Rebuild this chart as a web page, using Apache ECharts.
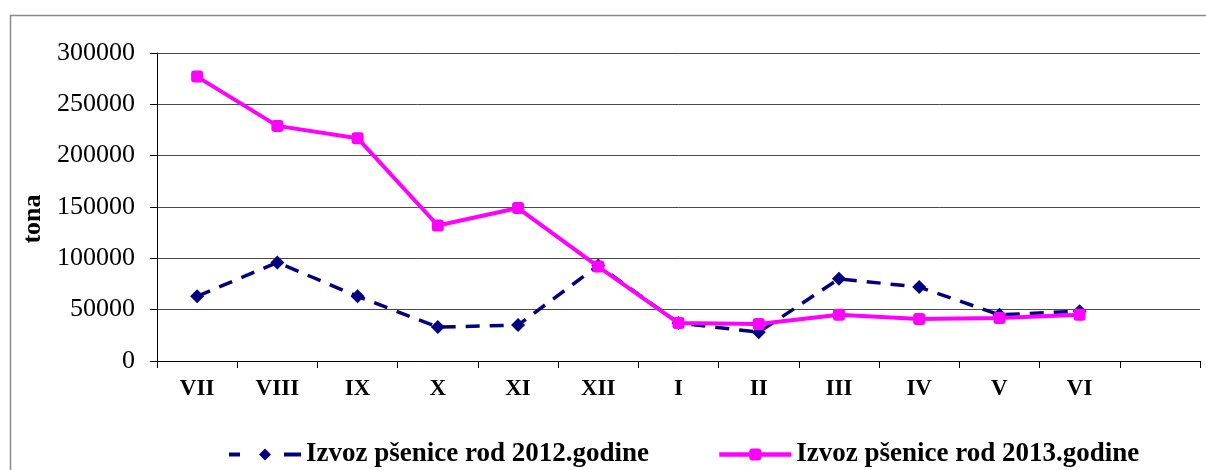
<!DOCTYPE html>
<html><head><meta charset="utf-8">
<script src="https://cdn.jsdelivr.net/npm/echarts@6/dist/echarts.min.js"></script>
<style>html,body{margin:0;padding:0;background:#fff}#c{width:1206px;height:470px}</style>
</head><body><div id="c"></div>
<script>
const categories = ['VII','VIII','IX','X','XI','XII','I','II','III','IV','V','VI',''];
const izvoz2012 = [63000, 96000, 63000, 33000, 35000, 93000, 37000, 28000, 80000, 72000, 45000, 48500];
const izvoz2013 = [277000, 229000, 217000, 132000, 149000, 92000, 37000, 36000, 45000, 41000, 42000, 45000];
const seriesNames = ['Izvoz pšenice rod 2012.godine', 'Izvoz pšenice rod 2013.godine'];
const yAxisName = 'tona';
const yTicks = {min: 0, max: 300000, interval: 50000};

const chart = echarts.init(document.getElementById('c'));
const font = "'Liberation Serif', 'Times New Roman', serif";
chart.setOption({
  animation: false,
  backgroundColor: '#fff',
  graphic: [
    {type: 'rect', shape: {x: 10.5, y: 15.5, width: 1220, height: 500}, style: {fill: 'none', stroke: '#8a8a8a', lineWidth: 1.5}, z: -1},
    {type: 'text', x: 33, y: 219, rotation: Math.PI / 2,
     style: {text: yAxisName, fontFamily: font, fontWeight: 'bold', fontSize: 26, fill: '#000', align: 'center', verticalAlign: 'middle'}}
  ],
  grid: {left: 157, right: 6, top: 53, bottom: 109},
  legend: {
    left: 222, top: 436, itemGap: 68, itemWidth: 72, itemHeight: 15,
    textStyle: {fontFamily: font, fontWeight: 'bold', fontSize: 27, color: '#000'},
    data: [
      {name: seriesNames[0], lineStyle: {type: [11, 44, 17, 100], width: 4}},
      {name: seriesNames[1], lineStyle: {width: 4.5}}
    ]
  },
  xAxis: {
    type: 'category', data: categories, boundaryGap: true,
    axisLine: {lineStyle: {color: '#000', width: 1}},
    axisTick: {show: true, length: 7, lineStyle: {color: '#000'}},
    axisLabel: {fontFamily: font, fontWeight: 'bold', fontSize: 23, color: '#000', margin: 17, interval: 0},
    splitLine: {show: false}
  },
  yAxis: {
    type: 'value', min: yTicks.min, max: yTicks.max, interval: yTicks.interval,
    axisLine: {show: true, lineStyle: {color: '#000', width: 1}},
    axisTick: {show: true, length: 7, lineStyle: {color: '#000'}},
    axisLabel: {fontFamily: font, fontSize: 26, color: '#000', margin: 22, formatter: v => String(v)},
    splitLine: {show: true, lineStyle: {color: '#4a4a4a', width: 1}}
  },
  series: [
    {name: seriesNames[0], type: 'line', data: izvoz2012, color: '#000080',
     symbol: 'diamond', symbolSize: 14,
     lineStyle: {color: '#000080', width: 3.5, type: [14, 10]},
     itemStyle: {color: '#000080'}, z: 2},
    {name: seriesNames[1], type: 'line', data: izvoz2013, color: '#FF00FF',
     symbol: 'roundRect', symbolSize: 12,
     lineStyle: {color: '#FF00FF', width: 4},
     itemStyle: {color: '#FF00FF'}, z: 3}
  ]
});
</script></body></html>
